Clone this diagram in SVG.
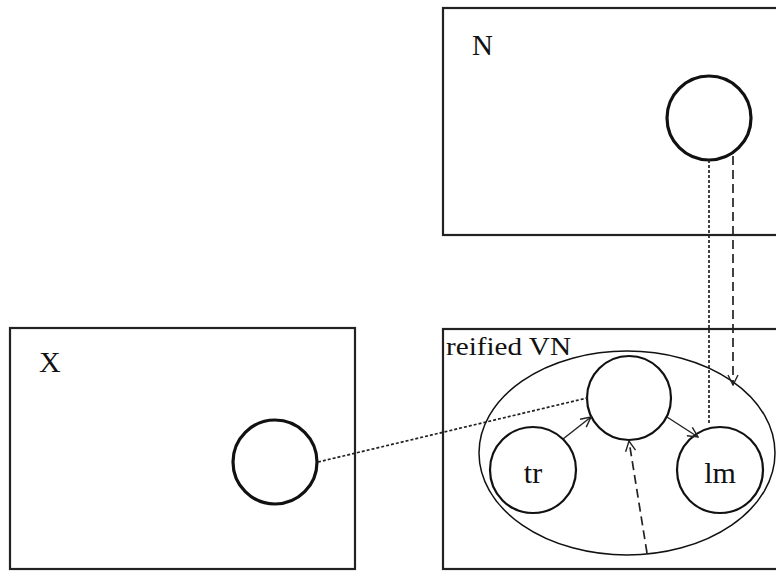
<svg xmlns="http://www.w3.org/2000/svg" width="776" height="572" viewBox="0 0 776 572">
<style>
.box{fill:none;stroke:#222;stroke-width:2.2}
.big{fill:#fff;stroke:#111;stroke-width:3.2}
.sm{fill:#fff;stroke:#111;stroke-width:2.2}
.ell{fill:none;stroke:#111;stroke-width:1.5}
.lbl{font-family:"Liberation Serif","Times New Roman",serif;fill:#111}
.dot{fill:none;stroke:#222;stroke-width:1.7;stroke-dasharray:3 2}
.dash{fill:none;stroke:#222;stroke-width:1.7;stroke-dasharray:9 5}
.sol{fill:none;stroke:#222;stroke-width:1.4}
</style>
<defs>
<marker id="arr" viewBox="0 0 12 12" refX="11" refY="6" markerWidth="12" markerHeight="12" markerUnits="userSpaceOnUse" orient="auto">
<path d="M1,1 L11,6 L1,11" fill="none" stroke="#222" stroke-width="1.4"/>
</marker>
</defs>
<rect width="776" height="572" fill="#fff"/>
<g id="N">
<rect class="box" x="443" y="8" width="340" height="227"/>
<text class="lbl" x="472" y="55" font-size="29">N</text>
<circle class="big" cx="709" cy="118" r="42"/>
</g>
<g id="X">
<rect class="box" x="10" y="328" width="345" height="241"/>
<text class="lbl" x="39" y="372" font-size="30">X</text>
<circle class="big" cx="275" cy="462" r="42"/>
</g>
<g id="reifiedVN">
<rect class="box" x="443" y="329" width="340" height="240"/>
<text class="lbl" x="446" y="355" font-size="26" textLength="125" lengthAdjust="spacingAndGlyphs">reified VN</text>
<ellipse class="ell" cx="627" cy="453" rx="148" ry="102"/>
</g>
<g id="center">
<circle class="sm" cx="629" cy="398" r="42"/>
</g>
<g id="tr">
<circle class="sm" cx="533" cy="470" r="43"/>
<text class="lbl" x="533" y="483" font-size="30" text-anchor="middle">tr</text>
</g>
<g id="lm">
<circle class="sm" cx="720" cy="470" r="43"/>
<text class="lbl" x="720" y="483" font-size="30" text-anchor="middle">lm</text>
</g>
<g id="connectors">
<line class="dot" x1="709" y1="160" x2="709" y2="424"/>
<line class="dash" x1="733" y1="156" x2="733" y2="385" marker-end="url(#arr)"/>
<line class="dot" x1="318" y1="462" x2="587" y2="398"/>
<line class="sol" x1="563" y1="439" x2="591" y2="417" marker-end="url(#arr)"/>
<line class="sol" x1="667" y1="417" x2="698" y2="437" marker-end="url(#arr)"/>
<line class="dash" x1="647" y1="553" x2="629" y2="441" marker-end="url(#arr)"/>
</g>
</svg>
